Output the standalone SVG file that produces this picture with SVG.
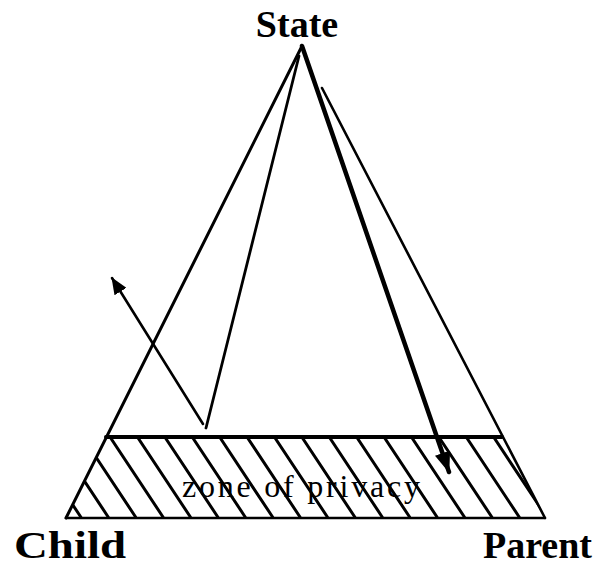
<svg xmlns="http://www.w3.org/2000/svg" width="597" height="569" viewBox="0 0 597 569">
<style>
.lbl{font-family:"Liberation Serif","Times New Roman",serif;font-weight:bold;font-size:38px;fill:#000}
.zone{font-family:"Liberation Serif","Times New Roman",serif;font-size:32px;fill:#000}
.ln{stroke:#000;fill:none;stroke-linecap:round}
</style>
<defs>
<clipPath id="bandClip"><polygon points="107,437 501,437 545,518 66,518"/></clipPath>
<marker id="ahSmall" markerUnits="userSpaceOnUse" markerWidth="18" markerHeight="14" refX="16" refY="7" orient="auto"><path d="M0,0 L17,7 L0,14 Z" fill="#000"/></marker>
<marker id="ahBig" markerUnits="userSpaceOnUse" markerWidth="22" markerHeight="16" refX="20" refY="8" orient="auto"><path d="M0,0 L21,8 L0,16 Z" fill="#000"/></marker>
</defs>
<rect width="597" height="569" fill="#fff"/>
<g id="zone-of-privacy">
<path clip-path="url(#bandClip)" class="ln" stroke-width="3" d="M27.8 437l53 80M55.2 437l53 80M82.6 437l53 80M110 437l53 80M137.4 437l53 80M164.8 437l53 80M192.2 437l53 80M219.6 437l53 80M247 437l53 80M274.4 437l53 80M301.8 437l53 80M329.2 437l53 80M356.6 437l53 80M384 437l53 80M411.4 437l53 80M438.8 437l53 80M466.2 437l53 80M493.6 437l53 80M521 437l53 80M548.4 437l53 80"/>
<line class="ln" x1="106" y1="437" x2="502" y2="437" stroke-width="4"/>
<line class="ln" x1="66" y1="518" x2="545" y2="518" stroke-width="2.5"/>
<text class="zone" x="182" y="497" textLength="238" lengthAdjust="spacing">zone of privacy</text>
</g>
<g id="state"><text class="lbl" x="297" y="37" text-anchor="middle">State</text></g>
<g id="child"><text class="lbl" x="14" y="558" textLength="112" lengthAdjust="spacingAndGlyphs">Child</text></g>
<g id="parent"><text class="lbl" x="592" y="558" text-anchor="end">Parent</text></g>
<g id="connectors">
<line class="ln" x1="302" y1="46" x2="66" y2="518" stroke-width="3"/>
<line class="ln" x1="322" y1="88" x2="545" y2="518" stroke-width="2.6"/>
<line class="ln" x1="299" y1="56" x2="206" y2="428" stroke-width="2.8"/>
<line class="ln" x1="203" y1="424" x2="112" y2="278" stroke-width="2.6" marker-end="url(#ahSmall)"/>
<line class="ln" x1="302" y1="46" x2="449" y2="472" stroke-width="4.5" marker-end="url(#ahBig)"/>
</g>
</svg>
